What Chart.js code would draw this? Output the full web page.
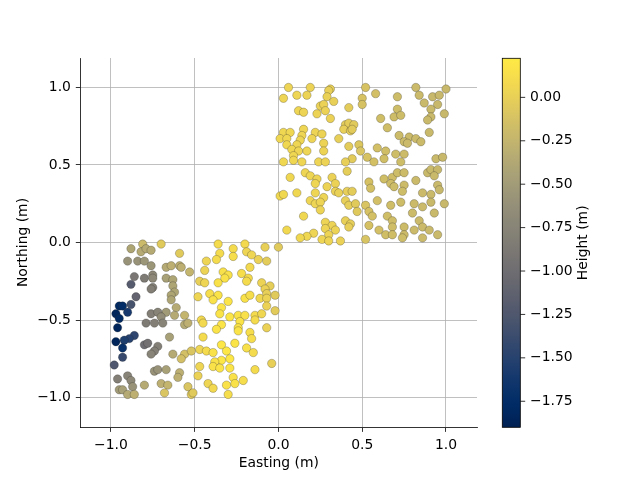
<!DOCTYPE html>
<html>
<head>
<meta charset="utf-8">
<script src="https://cdn.jsdelivr.net/npm/chart.js@4"></script>
<style>
  html, body { margin: 0; padding: 0; background: #ffffff; }
  #chart { display: block; }
</style>
</head>
<body>
<canvas id="chart" width="640" height="480"></canvas>
<script>
// south-west block
var eastingSW = [
  -0.81, -0.70, -0.88, -0.82, -0.79, -0.76, -0.59, -0.90, -0.84, -0.80, -0.76, -0.67, -0.64, -0.59, -0.58, -0.53,
  -0.86, -0.80, -0.75, -0.75, -0.67, -0.63, -0.88, -0.75, -0.76, -0.63, -0.62, -0.64, -0.85, -0.64,
  -0.95, -0.93, -0.88, -0.90, -0.97, -0.61, -0.67, -0.76, -0.72, -0.70, -0.62, -0.56,
  -0.95, -0.96, -0.79, -0.74, -0.69, -0.56, -0.54, -0.86, -0.89, -0.92, -0.97, -0.93, -0.80, -0.78, -0.72, -0.74, -0.76,
  -0.65, -0.63, -0.56, -0.52, -0.58, -0.93, -0.98, -0.74, -0.72, -0.67, -0.59, -0.60, -0.96, -0.90, -0.88, -0.87,
  -0.95, -0.93, -0.90, -0.86, -0.80, -0.70, -0.66, -0.68, -0.54, -0.52,
  -0.36, -0.20, -0.27, -0.08, 0.00, -0.35, -0.19, -0.16, -0.12, -0.07, -0.27, -0.37, -0.43, -0.44, -0.33,
  -0.30, -0.32, -0.17, -0.22, -0.18, -0.19, -0.47, -0.44, -0.36, -0.10, -0.05, -0.08, -0.07, -0.02, -0.48,
  -0.41, -0.36, -0.39, -0.20, -0.17, -0.11, -0.07, -0.07, -0.02, -0.30, -0.34, -0.35, -0.29, -0.24, -0.20,
  -0.14, -0.10, -0.46,
  -0.45, -0.34, -0.37, -0.23, -0.14, -0.24, -0.24, -0.07, -0.17, -0.16, -0.45, -0.26, -0.34,
  -0.47, -0.43, -0.39, -0.31, -0.19, -0.15, -0.29, -0.34, -0.38, -0.39, -0.35, -0.29,
  -0.47, -0.48, -0.14, -0.04, -0.27, -0.21, -0.26, -0.31, -0.42, -0.39, -0.30, -0.51
];
var northingSW = [
  -0.01, -0.01, -0.04, -0.06, -0.04, -0.05, -0.07, -0.12, -0.12, -0.12, -0.15, -0.16, -0.15, -0.15, -0.16, -0.19,
  -0.22, -0.23, -0.21, -0.23, -0.23, -0.24, -0.27, -0.29, -0.30, -0.28, -0.32, -0.34, -0.35, -0.37,
  -0.41, -0.41, -0.40, -0.45, -0.46, -0.42, -0.45, -0.46, -0.45, -0.48, -0.47, -0.47,
  -0.49, -0.55, -0.52, -0.52, -0.52, -0.53, -0.52, -0.60, -0.62, -0.63, -0.64, -0.68, -0.66, -0.65, -0.67, -0.70, -0.72,
  -0.61, -0.72, -0.72, -0.70, -0.75, -0.74, -0.79, -0.83, -0.82, -0.82, -0.84, -0.87, -0.88, -0.86, -0.89, -0.93,
  -0.95, -0.95, -0.98, -0.98, -0.92, -0.91, -0.92, -0.97, -0.93, -0.98,
  -0.01, -0.01, -0.04, -0.03, -0.03, -0.07, -0.06, -0.08, -0.11, -0.12, -0.09, -0.11, -0.12, -0.18, -0.19,
  -0.21, -0.23, -0.16, -0.20, -0.23, -0.25, -0.25, -0.26, -0.26, -0.26, -0.28, -0.30, -0.33, -0.34, -0.35,
  -0.33, -0.34, -0.37, -0.36, -0.34, -0.36, -0.36, -0.41, -0.44, -0.38, -0.42, -0.46, -0.48, -0.47, -0.47,
  -0.47, -0.46, -0.50,
  -0.52, -0.53, -0.56, -0.51, -0.50, -0.55, -0.57, -0.55, -0.58, -0.62, -0.61, -0.65, -0.66,
  -0.69, -0.70, -0.71, -0.70, -0.68, -0.71, -0.75, -0.76, -0.77, -0.80, -0.81, -0.81,
  -0.80, -0.86, -0.82, -0.78, -0.87, -0.89, -0.91, -0.92, -0.91, -0.94, -0.98, -0.97
];
var heightSW = [
  -0.20, -0.05, -0.40, -0.35, -0.35, -0.35, -0.05, -0.60, -0.60, -0.55, -0.55, -0.35, -0.30, -0.30, -0.30, -0.25,
  -0.90, -0.85, -0.70, -0.70, -0.45, -0.40, -1.20, -0.80, -0.80, -0.40, -0.40, -0.40, -1.10, -0.40,
  -1.80, -1.75, -1.30, -1.60, -1.85, -0.35, -0.50, -0.80, -0.75, -0.65, -0.35, -0.25,
  -1.80, -1.85, -0.85, -0.80, -0.75, -0.35, -0.30, -1.45, -1.50, -1.55, -1.85, -1.70, -1.00, -0.95, -0.80, -0.80, -0.75,
  -0.45, -0.35, -0.15, -0.10, -0.15, -1.40, -1.25, -0.60, -0.60, -0.45, -0.30, -0.30, -0.80, -0.75, -0.70, -0.60,
  -0.50, -0.45, -0.35, -0.30, -0.35, -0.30, -0.25, -0.10, -0.10, -0.05,
  0.10, 0.08, 0.10, 0.00, -0.05, 0.10, 0.05, 0.05, 0.02, -0.03, 0.12, 0.10, 0.05, 0.03, 0.14,
  0.15, 0.15, 0.08, 0.12, 0.10, 0.10, 0.00, 0.05, 0.15, 0.03, -0.02, 0.02, 0.00, -0.05, 0.05,
  0.12, 0.16, 0.15, 0.15, 0.12, 0.06, 0.03, 0.02, -0.04, 0.18, 0.18, 0.17, 0.19, 0.17, 0.14,
  0.10, 0.06, 0.08,
  0.08, 0.18, 0.17, 0.17, 0.10, 0.16, 0.16, 0.02, 0.12, 0.12, 0.10, 0.18, 0.20,
  0.05, 0.10, 0.15, 0.20, 0.14, 0.10, 0.20, 0.20, 0.15, 0.15, 0.18, 0.18,
  0.05, 0.02, 0.10, 0.00, 0.15, 0.12, 0.15, 0.15, 0.05, 0.08, 0.12, -0.05
];

// north-east block
var eastingNE = [
  0.06, 0.19, 0.31, 0.30, 0.03, 0.11, 0.17, 0.29, 0.33, 0.50, 0.25, 0.27, 0.42, 0.50, 0.12, 0.15, 0.23, 0.28,
  0.31, 0.40, 0.42, 0.45, 0.39, 0.43, 0.44, 0.15, 0.22, 0.26, 0.03, 0.07, 0.14, 0.01, 0.05, 0.20, 0.13, 0.36,
  0.27, 0.05, 0.11, 0.42, 0.48, 0.08, 0.27, 0.12, 0.17, 0.49, 0.09, 0.44, 0.03, 0.09, 0.14, 0.24, 0.28, 0.40,
  0.07, 0.16, 0.19, 0.23, 0.32, 0.41, 0.22, 0.29, 0.34, 0.34, 0.36, 0.41, 0.44, 0.01, 0.03, 0.11, 0.22, 0.27,
  0.19, 0.22, 0.25, 0.40, 0.42, 0.46, 0.25, 0.47, 0.15, 0.28, 0.40, 0.43, 0.32, 0.42, 0.28, 0.34, 0.05, 0.21,
  0.30, 0.17, 0.13, 0.26, 0.30, 0.37,
  0.52, 0.82, 1.00, 0.58, 0.84, 0.71, 0.92, 0.96, 0.87, 0.95, 0.71, 0.91, 0.99, 0.69, 0.73, 0.61, 0.91, 0.89,
  0.65, 0.90, 0.72, 0.78, 0.82, 0.75, 0.77, 0.85, 0.59, 0.64, 0.53, 0.57, 0.63, 0.70, 0.75, 0.73, 0.94, 0.98,
  0.54, 0.55, 0.63, 0.68, 0.71, 0.75, 0.67, 0.69, 0.75, 0.74, 0.82, 0.89, 0.91, 0.95, 0.93, 0.95, 0.96, 0.86,
  0.91, 0.59, 0.67, 0.73, 0.81, 0.86, 0.91, 0.99, 0.52, 0.54, 0.56, 0.80, 0.93, 0.65, 0.68, 0.84, 0.54, 0.68,
  0.75, 0.86, 0.81, 0.90, 0.60, 0.64, 0.68, 0.75, 0.74, 0.86, 0.95, 0.52
];
var northingNE = [
  1.00, 1.00, 0.99, 0.98, 0.93, 0.95, 0.95, 0.94, 0.91, 0.93, 0.88, 0.89, 0.87, 0.89, 0.85, 0.84, 0.83, 0.85,
  0.80, 0.76, 0.77, 0.76, 0.73, 0.72, 0.73, 0.73, 0.71, 0.70, 0.71, 0.71, 0.69, 0.67, 0.67, 0.67, 0.66, 0.67,
  0.64, 0.63, 0.63, 0.62, 0.63, 0.60, 0.59, 0.59, 0.59, 0.59, 0.56, 0.54, 0.52, 0.53, 0.52, 0.52, 0.52, 0.52,
  0.42, 0.45, 0.43, 0.41, 0.42, 0.46, 0.38, 0.36, 0.38, 0.33, 0.32, 0.33, 0.33, 0.30, 0.31, 0.32, 0.32, 0.29,
  0.27, 0.25, 0.26, 0.27, 0.24, 0.25, 0.21, 0.20, 0.17, 0.13, 0.14, 0.12, 0.11, 0.10, 0.09, 0.08, 0.08, 0.06,
  0.05, 0.04, 0.03, 0.02, 0.01, 0.01,
  1.00, 1.00, 0.99, 0.96, 0.95, 0.94, 0.94, 0.95, 0.90, 0.89, 0.86, 0.86, 0.83, 0.81, 0.82, 0.80, 0.81, 0.79,
  0.74, 0.71, 0.69, 0.68, 0.67, 0.65, 0.64, 0.65, 0.61, 0.59, 0.55, 0.52, 0.54, 0.57, 0.57, 0.52, 0.54, 0.55,
  0.39, 0.35, 0.41, 0.42, 0.45, 0.45, 0.38, 0.36, 0.37, 0.33, 0.40, 0.45, 0.47, 0.47, 0.43, 0.37, 0.34, 0.32,
  0.31, 0.27, 0.24, 0.26, 0.25, 0.23, 0.26, 0.25, 0.24, 0.20, 0.17, 0.19, 0.19, 0.17, 0.14, 0.14, 0.11, 0.10,
  0.10, 0.10, 0.08, 0.08, 0.08, 0.05, 0.05, 0.05, 0.03, 0.03, 0.05, 0.02
];
var heightNE = [
  0.04, 0.03, 0.00, 0.00, 0.05, 0.05, 0.03, 0.01, 0.00, -0.12, 0.02, 0.02, -0.03, -0.12, 0.05, 0.04, 0.03, 0.02,
  0.02, -0.02, -0.03, -0.05, -0.01, -0.03, -0.04, 0.05, 0.04, 0.03, 0.06, 0.06, 0.05, 0.06, 0.06, 0.04, 0.05, 0.00,
  0.03, 0.06, 0.05, -0.03, -0.08, 0.06, 0.03, 0.05, 0.05, -0.10, 0.06, -0.04, 0.06, 0.06, 0.05, 0.04, 0.03, -0.01,
  0.06, 0.05, 0.05, 0.04, 0.02, -0.02, 0.05, 0.03, 0.02, 0.02, 0.01, -0.01, -0.03, 0.07, 0.07, 0.06, 0.05, 0.04,
  0.05, 0.05, 0.04, -0.01, -0.02, -0.05, 0.04, -0.06, 0.06, 0.04, 0.00, -0.02, 0.03, -0.01, 0.04, 0.03, 0.07, 0.05,
  0.04, 0.06, 0.06, 0.05, 0.04, 0.02,
  -0.12, -0.20, -0.22, -0.15, -0.20, -0.18, -0.22, -0.22, -0.21, -0.22, -0.18, -0.21, -0.22, -0.18, -0.18, -0.16, -0.21, -0.21,
  -0.17, -0.21, -0.19, -0.20, -0.20, -0.19, -0.20, -0.20, -0.15, -0.17, -0.12, -0.14, -0.16, -0.18, -0.19, -0.18, -0.21, -0.22,
  -0.13, -0.14, -0.16, -0.17, -0.18, -0.19, -0.17, -0.18, -0.19, -0.18, -0.20, -0.21, -0.21, -0.22, -0.21, -0.21, -0.22, -0.20,
  -0.21, -0.15, -0.17, -0.18, -0.20, -0.20, -0.21, -0.22, -0.11, -0.13, -0.14, -0.19, -0.21, -0.16, -0.17, -0.20, -0.13, -0.17,
  -0.19, -0.20, -0.20, -0.21, -0.15, -0.16, -0.17, -0.19, -0.18, -0.20, -0.21, -0.11
];

var axisTicks = [-1.0, -0.5, 0.0, 0.5, 1.0];
var colorbarTicks = [0.0, -0.25, -0.5, -0.75, -1.0, -1.25, -1.5, -1.75];
var heightMin = -1.90;
var heightMax = 0.225;

// cividis colormap
function cividis(t) {
  t = Math.max(0, Math.min(1, t));
  var r = -4.54 - t * (35.34 - t * (2381.73 - t * (6402.7 - t * (7024.72 - t * 2710.57))));
  var g = 32.49 + t * (170.73 + t * (52.82 - t * (131.46 - t * (176.58 - t * 67.37))));
  var b = 81.24 + t * (442.36 - t * (2482.43 - t * (6167.24 - t * (6614.94 - t * 2475.67))));
  function c(v) { return Math.max(0, Math.min(255, Math.round(v))); }
  return 'rgb(' + c(r) + ',' + c(g) + ',' + c(b) + ')';
}
function heightColor(h) { return cividis((h - heightMin) / (heightMax - heightMin)); }
function fmt(v, d) { return (v < 0 ? '\u2212' : '') + Math.abs(v).toFixed(d); }

var eastings = eastingSW.concat(eastingNE);
var northings = northingSW.concat(northingNE);
var heights = heightSW.concat(heightNE);
var points = eastings.map(function (x, i) { return { x: x, y: northings[i] }; });
var colors = heights.map(heightColor);

var FONT = '"DejaVu Sans", sans-serif';
Chart.defaults.font.family = FONT;
Chart.defaults.font.size = 13.9;
Chart.defaults.color = '#000000';

// ── colorbar drawn beside the plot ─────────────────────────────────────
var colorbar = {
  id: 'colorbar',
  afterDraw: function (chart) {
    var ctx = chart.ctx;
    var left = 502.3, right = 520.3, top = 58.3, bottom = 427.3;
    var grad = ctx.createLinearGradient(0, bottom, 0, top);
    for (var i = 0; i <= 64; i++) grad.addColorStop(i / 64, cividis(i / 64));
    ctx.save();
    ctx.fillStyle = grad;
    ctx.fillRect(left, top, right - left, bottom - top);
    ctx.strokeStyle = '#000';
    ctx.lineWidth = 0.8;
    ctx.strokeRect(left, top, right - left, bottom - top);
    ctx.font = '13.9px ' + FONT;
    ctx.fillStyle = '#000';
    ctx.textAlign = 'left';
    ctx.textBaseline = 'middle';
    colorbarTicks.forEach(function (v) {
      var y = bottom - (v - heightMin) / (heightMax - heightMin) * (bottom - top);
      ctx.beginPath();
      ctx.moveTo(right, y);
      ctx.lineTo(right + 4.9, y);
      ctx.stroke();
      ctx.fillText(fmt(v, 2), right + 9.8, y);
    });
    ctx.translate(583, (top + bottom) / 2);
    ctx.rotate(-Math.PI / 2);
    ctx.textAlign = 'center';
    ctx.fillText('Height (m)', 0, 0);
    ctx.restore();
  }
};

function axisOptions(min, max, label, titlePad, fit) {
  return {
    type: 'linear',
    min: min,
    max: max,
    afterBuildTicks: function (s) { s.ticks = axisTicks.map(function (v) { return { value: v }; }); },
    afterFit: fit,
    grid: { color: '#b0b0b0', lineWidth: 0.8, tickColor: '#000000', tickLength: 4.9, drawTicks: true },
    border: { display: true, color: '#000000', width: 0.8 },
    ticks: { padding: 4.9, maxRotation: 0, callback: function (v) { return fmt(v, 1); } },
    title: { display: true, text: label, padding: { top: titlePad, bottom: titlePad } }
  };
}

new Chart(document.getElementById('chart'), {
  type: 'scatter',
  data: {
    datasets: [{
      data: points,
      pointBackgroundColor: colors,
      pointBorderColor: 'rgba(40, 40, 40, 0.45)',
      pointBorderWidth: 0.6,
      pointRadius: 4.2
    }]
  },
  options: {
    responsive: false,
    animation: false,
    devicePixelRatio: 1,
    layout: { padding: { left: 0, right: 163, top: 58, bottom: 0 } },
    plugins: { legend: { display: false }, tooltip: { enabled: false } },
    scales: {
      x: axisOptions(-1.18, 1.185, 'Easting (m)', 8, function (s) { s.height = 53; }),
      y: axisOptions(-1.19, 1.19, 'Northing (m)', 15, function (s) { s.width = 80.7; })
    }
  },
  plugins: [colorbar]
});
</script>
</body>
</html>
